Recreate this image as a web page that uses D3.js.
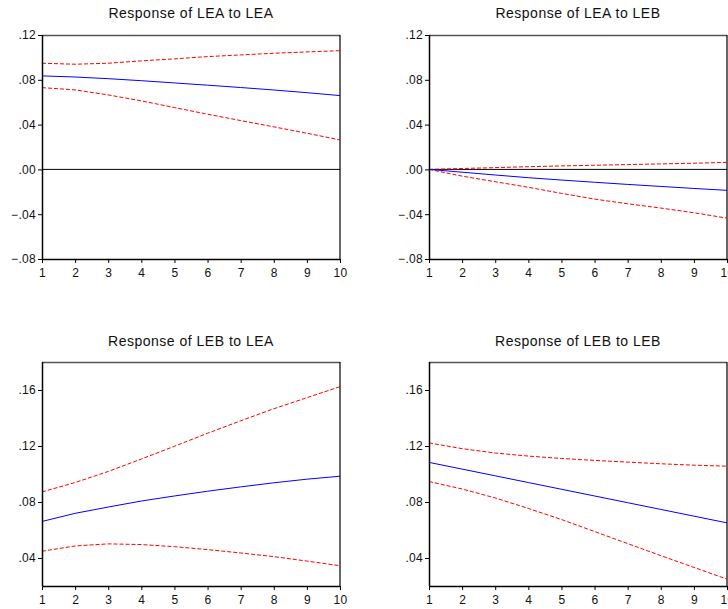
<!DOCTYPE html>
<html><head><meta charset="utf-8">
<script src="https://cdn.jsdelivr.net/npm/d3@7"></script>
<style>
body{margin:0;background:#fff;}
svg{display:block;font-family:"Liberation Sans",Arial,sans-serif;}
</style></head>
<body><svg id="c" width="728" height="609"></svg>
<script>
const periods = [1,2,3,4,5,6,7,8,9,10];
const titles = ["Response of LEA to LEA","Response of LEA to LEB","Response of LEB to LEA","Response of LEB to LEB"];

const leaLeaResp  = [0.0835,0.0825,0.0810,0.0792,0.0772,0.0752,0.0731,0.0709,0.0685,0.0659];
const leaLeaUpper = [0.0948,0.0939,0.0948,0.0969,0.0987,0.1007,0.1022,0.1037,0.1049,0.1060];
const leaLeaLower = [0.0730,0.0710,0.0665,0.0612,0.0552,0.0493,0.0436,0.0380,0.0323,0.0263];

const leaLebResp  = [0.0000,-0.0025,-0.0050,-0.0074,-0.0095,-0.0115,-0.0134,-0.0152,-0.0170,-0.0187];
const leaLebUpper = [0.0000,0.0008,0.0016,0.0024,0.0031,0.0037,0.0043,0.0049,0.0055,0.0063];
const leaLebLower = [0.0000,-0.0060,-0.0110,-0.0160,-0.0214,-0.0265,-0.0307,-0.0345,-0.0387,-0.0435];

const lebLeaResp  = [0.0661,0.0719,0.0764,0.0807,0.0843,0.0877,0.0908,0.0937,0.0963,0.0984];
const lebLeaUpper = [0.0872,0.0939,0.1018,0.1107,0.1198,0.1291,0.1380,0.1466,0.1545,0.1624];
const lebLeaLower = [0.0448,0.0486,0.0501,0.0496,0.0481,0.0460,0.0436,0.0410,0.0378,0.0345];

const lebLebResp  = [0.1083,0.1035,0.0987,0.0939,0.0891,0.0843,0.0795,0.0747,0.0699,0.0651];
const lebLebUpper = [0.1222,0.1181,0.1150,0.1128,0.1111,0.1097,0.1085,0.1073,0.1063,0.1056];
const lebLebLower = [0.0946,0.0893,0.0829,0.0754,0.0675,0.0589,0.0503,0.0417,0.0333,0.0249];

const topDomain = [-0.08, 0.12];
const topTicks = [-0.08,-0.04,0.00,0.04,0.08,0.12];
const botDomain = [0.02, 0.18];
const botTicks = [0.04,0.08,0.12,0.16];

const panels = [
  {title:titles[0], resp:leaLeaResp, up:leaLeaUpper, lo:leaLeaLower, dom:topDomain, ticks:topTicks, zero:true, x:42, y:35, ty:18},
  {title:titles[1], resp:leaLebResp, up:leaLebUpper, lo:leaLebLower, dom:topDomain, ticks:topTicks, zero:true, x:429, y:35, ty:18},
  {title:titles[2], resp:lebLeaResp, up:lebLeaUpper, lo:lebLeaLower, dom:botDomain, ticks:botTicks, zero:false, x:42, y:362, ty:346},
  {title:titles[3], resp:lebLebResp, up:lebLebUpper, lo:lebLebLower, dom:botDomain, ticks:botTicks, zero:false, x:429, y:362, ty:346}
];
const W = 298, H = 224;
const svg = d3.select("#c");
const fmt = v => { if (Math.abs(v) < 1e-9) return ".00"; const s = d3.format(".2f")(v); return s.replace("0.", "."); };

panels.forEach(p => {
  const g = svg.append("g").attr("transform", `translate(${p.x},${p.y})`);
  const x = d3.scaleLinear().domain([1,10]).range([0,W]);
  const y = d3.scaleLinear().domain(p.dom).range([H,0]);

  svg.append("text").attr("x", p.x + W/2).attr("y", p.ty).attr("text-anchor","middle")
     .attr("font-size", 14).attr("letter-spacing","0.5px").attr("fill","#111").text(p.title);

  g.append("line").attr("x1",0).attr("x2",W).attr("y1",0.5).attr("y2",0.5).attr("stroke","#555").attr("stroke-width",1.5);
  g.append("line").attr("x1",W).attr("x2",W).attr("y1",0).attr("y2",H).attr("stroke","#000").attr("stroke-width",1.2);

  if (p.zero) {
    g.append("line").attr("x1",0).attr("x2",W).attr("y1",y(0)).attr("y2",y(0)).attr("stroke","#000").attr("stroke-width",1);
  }

  const line = d3.line().x((d,i)=>x(periods[i])).y(d=>y(d));
  g.append("path").datum(p.up).attr("d",line).attr("fill","none").attr("stroke","#ff0000").attr("stroke-width",1).attr("stroke-dasharray","4,2");
  g.append("path").datum(p.lo).attr("d",line).attr("fill","none").attr("stroke","#ff0000").attr("stroke-width",1).attr("stroke-dasharray","4,2");
  g.append("path").datum(p.resp).attr("d",line).attr("fill","none").attr("stroke","#0000ff").attr("stroke-width",1);

  const ya = g.append("g").call(d3.axisLeft(y).tickValues(p.ticks).tickFormat(fmt).tickSize(4).tickPadding(2));
  ya.select(".domain").attr("stroke","#000").attr("stroke-width",1.5).attr("d",`M0.5,0V${H}`);
  ya.selectAll(".tick line").attr("stroke","#000");
  ya.selectAll("text").attr("font-size",12).attr("letter-spacing","0.3px").attr("fill","#111").attr("font-family","'Liberation Sans',Arial,sans-serif");

  const xa = g.append("g").attr("transform",`translate(0,${H})`).call(d3.axisBottom(x).tickValues(periods).tickFormat(d3.format("d")).tickSize(4).tickPadding(5));
  xa.select(".domain").attr("stroke","#000").attr("stroke-width",1.5).attr("d",`M0,0.5H${W}`);
  xa.selectAll(".tick line").attr("stroke","#000");
  xa.selectAll("text").attr("font-size",12).attr("letter-spacing","0.3px").attr("fill","#111").attr("font-family","'Liberation Sans',Arial,sans-serif");
});
</script></body></html>
